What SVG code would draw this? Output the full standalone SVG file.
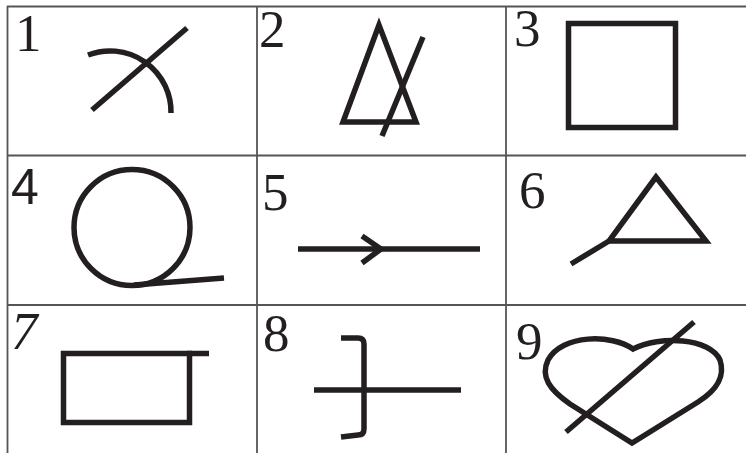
<svg xmlns="http://www.w3.org/2000/svg" width="746" height="453" viewBox="0 0 746 453">
<style>
.grid{stroke:#555;stroke-width:1.8;fill:none}
.s{stroke:#231f20;stroke-width:5.5;fill:none;stroke-linejoin:miter}
.n{font-family:"Liberation Serif","Times New Roman","DejaVu Serif",serif;font-size:53px;fill:#231f20}
.ns{font-family:"Liberation Sans",Arial,sans-serif;font-size:50px;fill:#231f20}
</style>
<rect width="746" height="453" fill="#fff"/>
<g id="grid">
<path class="grid" d="M7,6.5H746M7,155.5H746M7,305H746M7.5,6V453M257,6V453M506,6V453"/>
</g>
<g id="cell1"><text class="n" x="15" y="51">1</text>
<path class="s" d="M92,110L187,28"/><path class="s" d="M88,55A61,61 0 0 1 171,113"/></g>
<g id="cell2"><text class="n" x="259" y="47">2</text>
<path class="s" d="M379,25L343,122H416Z"/><path class="s" d="M423,37L382,136"/></g>
<g id="cell3"><text class="n" x="514" y="46">3</text>
<rect class="s" x="568.5" y="23.5" width="107" height="104"/></g>
<g id="cell4"><text class="ns" x="11" y="204">4</text>
<circle class="s" cx="132" cy="227.5" r="58"/><path class="s" d="M134,285L224,278"/></g>
<g id="cell5"><text class="n" x="262" y="210">5</text>
<path class="s" d="M298,249H480"/><path class="s" d="M362,236L381,249L362,263"/></g>
<g id="cell6"><text class="n" x="519" y="208">6</text>
<path class="s" d="M656,177L609,241H706Z"/><path class="s" d="M609,241L571,264"/></g>
<g id="cell7"><text class="n" x="11" y="349" font-style="italic">7</text>
<rect class="s" x="63.5" y="353.5" width="126" height="69"/><path class="s" d="M187,353.5H209"/></g>
<g id="cell8"><text class="n" x="263" y="351">8</text>
<path class="s" d="M341,338H358Q364,338 364,344V429Q364,435 358,435L341,437"/><path class="s" d="M314,390H461"/></g>
<g id="cell9"><text class="n" x="516" y="359">9</text>
<path class="s" d="M633,349C612,334 562,334 548,360C540,377 550,390 570,404L632,443L698,402C715,391 726,378 720,360C710,338 660,335 633,349Z"/>
<path class="s" d="M566,432L694,322"/></g>
</svg>
